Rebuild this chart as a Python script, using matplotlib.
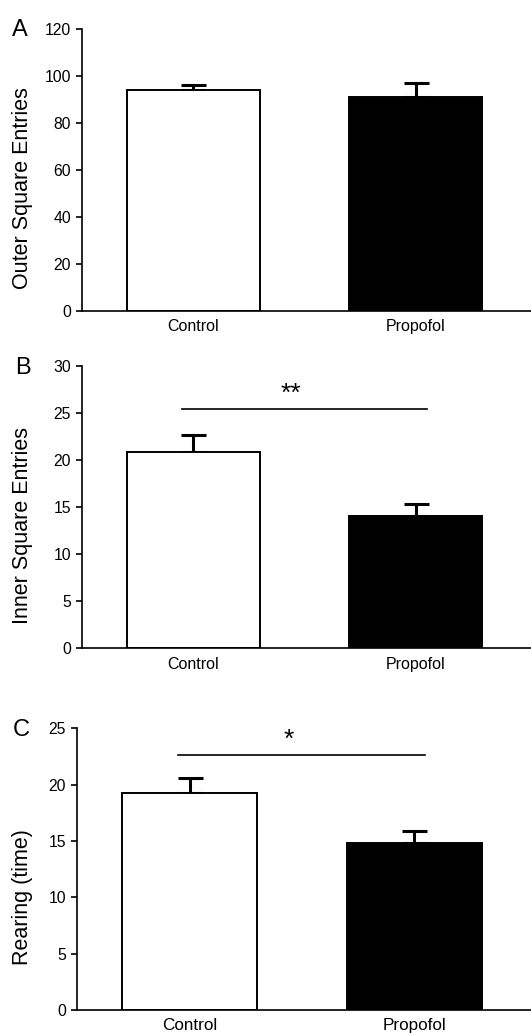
import matplotlib.pyplot as plt

plt.rcParams['font.family'] = ['Liberation Sans', 'DejaVu Sans']

groups = ['Control', 'Propofol']

# panel A
outer_mean = [94.0, 91.0]
outer_sem = [2.0, 6.0]
# panel B
inner_mean = [20.8, 14.0]
inner_sem = [1.8, 1.3]
# panel C
rear_mean = [19.3, 14.8]
rear_sem = [1.25, 1.1]

panels = [
    ('A', outer_mean, outer_sem, 'Outer Square Entries', 120, 20, None, None),
    ('B', inner_mean, inner_sem, 'Inner Square Entries', 30, 5, '**', 25.35),
    ('C', rear_mean, rear_sem, 'Rearing (time)', 25, 5, '*', 22.65),
]

# axes rectangles [left, bottom, width, height] in figure fractions
rects = [
    [0.1544, 0.6995, 0.8456, 0.2725],
    [0.1544, 0.3736, 0.8456, 0.2731],
    [0.1450, 0.0242, 0.8550, 0.2721],
]
label_xy = [(-0.109, 0.436), (-0.109, 0.436), (-0.097, 0.40)]
letter_pos = [(-0.138, 0.995), (-0.132, 0.99), (-0.123, 0.993)]
xtick_size = [11.5, 11.5, 12.3]

fig = plt.figure(figsize=(5.31, 10.35), dpi=100)

for (letter, means, sems, ylabel, ymax, ystep, stars, sig_y), rect, lxy, lp, xs in zip(
        panels, rects, label_xy, letter_pos, xtick_size):
    ax = fig.add_axes(rect)
    x = range(len(groups))
    ax.bar(x, means, width=0.6, color=['white', 'black'], edgecolor='black',
           linewidth=1.4, zorder=2)
    ax.errorbar(x, means, yerr=[[0, 0], sems], fmt='none', ecolor='black',
                elinewidth=2.2, capsize=9, capthick=2.2, zorder=1)
    if stars:
        ax.plot([-0.05, 1.05], [sig_y, sig_y], color='black', linewidth=1.2)
        ax.text(0.44, sig_y + ymax * 0.012, stars, ha='center', va='bottom', fontsize=19)
    ax.set_xlim(-0.502, 1.52)
    ax.set_ylim(0, ymax)
    ax.set_yticks(range(0, ymax + 1, ystep))
    ax.set_xticks(list(x))
    ax.set_xticklabels(groups, fontsize=xs)
    ax.tick_params(axis='x', length=0, pad=6)
    ax.tick_params(axis='y', length=4, width=1.2, labelsize=11.3, pad=4)
    for side in ['top', 'right']:
        ax.spines[side].set_visible(False)
    ax.spines['left'].set_linewidth(1.2)
    ax.spines['bottom'].set_linewidth(1.2)
    ax.set_ylabel(ylabel, fontsize=15.5)
    ax.yaxis.set_label_coords(*lxy)
    ax.text(lp[0], lp[1], letter, transform=ax.transAxes, fontsize=17,
            ha='center', va='center')

fig.savefig('out.png', dpi=100)
